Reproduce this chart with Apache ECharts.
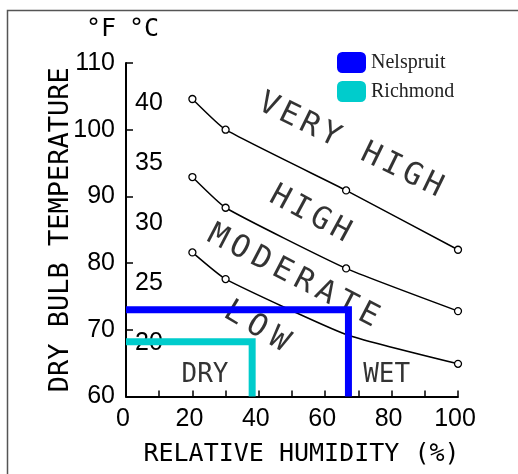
<!DOCTYPE html>
<html>
<head>
<meta charset="utf-8">
<script src="https://cdn.jsdelivr.net/npm/echarts@6/dist/echarts.min.js"></script>
<style>
  html, body { margin: 0; padding: 0; background: #fff; }
  #chart { width: 518px; height: 474px; }
</style>
</head>
<body>
<div id="chart"></div>
<script>
// Relative humidity (%) at which each boundary curve was plotted
const humidityPoints = [20, 30, 66.3, 100];
// Dry bulb temperature (°F) along the three zone boundaries
const veryHighBoundary = [104.6, 100.0, 90.9, 82.0];
const highBoundary     = [92.9, 88.3, 79.2, 72.8];
const moderateBoundary = [81.6, 77.6, 69.3, 64.9];

// Station conditions: relative humidity (%) and dry bulb temperature (°F)
const stationNames = ['Nelspruit', 'Richmond'];
const stationHumidity = [67, 38];
const stationTemp = [73.0, 68.2];
const stationColors = ['#0000ff', '#00cccc'];

// Axis tick labels
const humidityTicks = [0, 20, 40, 60, 80, 100];
const fahrenheitTicks = [60, 70, 80, 90, 100, 110];
const celsiusTicks = [20, 25, 30, 35, 40];

// Zone names written across the chart
const zoneNames = ['VERY HIGH', 'HIGH', 'MODERATE', 'LOW'];
const moistureNames = ['DRY', 'WET'];

const plotFont = 'DejaVu Sans Mono';
const tickFont = 'Liberation Sans';

const chart = echarts.init(document.getElementById('chart'), null, { renderer: 'canvas' });

function boundary(temps) {
  return humidityPoints.map((h, i) => [h, temps[i]]);
}

function stationPath(i) {
  return [[0, stationTemp[i]], [stationHumidity[i], stationTemp[i]], [stationHumidity[i], 60]];
}

// Letter-spaced text built from fixed-width rich-text cells
function spaced(text, cls) {
  return text.split('').map(ch => '{' + cls + '|' + ch + '}').join('');
}

const curveStyle = {
  type: 'line',
  smooth: 0.15,
  symbol: 'circle',
  symbolSize: 7,
  silent: true,
  lineStyle: { color: '#000', width: 1.5 },
  itemStyle: { color: '#fff', borderColor: '#000', borderWidth: 1.3 },
  z: 3
};

// Placement of the zone captions (data coordinates), rotation and letter pitch
const zonePlacement = [
  { at: [67.6, 97.6], rotate: -26, pitch: 22.8 },
  { at: [55.4, 87.3], rotate: -28.5, pitch: 22.8 },
  { at: [50.3, 78.0], rotate: -27.5, pitch: 24.2 },
  { at: [39.3, 70.4], rotate: -31, pitch: 26 }
];
const moisturePlacement = [[23.8, 63.2], [78.5, 63.2]];

const rich = {};
zonePlacement.forEach((p, i) => {
  rich['z' + i] = {
    width: p.pitch, align: 'center',
    fontFamily: plotFont, fontSize: 31, color: '#000'
  };
});

const zoneData = zoneNames.map((name, i) => ({
  value: zonePlacement[i].at,
  label: {
    show: true,
    position: 'inside',
    rotate: zonePlacement[i].rotate,
    formatter: spaced(name, 'z' + i)
  }
}));
moistureNames.forEach((name, i) => {
  zoneData.push({
    value: moisturePlacement[i],
    label: {
      show: true, position: 'inside', rotate: 0,
      formatter: name, fontFamily: plotFont, fontSize: 26, color: '#000'
    }
  });
});

const lowData = boundary(moderateBoundary).map((pt, i) =>
  i === 2 ? { value: pt, symbol: 'none' } : pt);

const option = {
  animation: false,
  backgroundColor: '#fff',
  grid: { left: 126, right: 60, top: 63, bottom: 77.5, containLabel: false },
  legend: {
    data: stationNames,
    orient: 'vertical',
    left: 332, top: 47,
    icon: 'roundRect',
    itemWidth: 29, itemHeight: 21, itemGap: 8,
    itemStyle: { borderWidth: 0 },
    textStyle: { fontFamily: 'Liberation Serif', fontSize: 20, color: '#222' }
  },
  xAxis: {
    type: 'value', min: 0, max: 100, interval: 10,
    name: 'RELATIVE HUMIDITY (%)',
    nameLocation: 'middle', nameGap: 45,
    nameMoveOverlap: false,
    nameTextStyle: { fontFamily: plotFont, fontSize: 25, color: '#000', padding: [0, 0, 0, 19] },
    axisLine: { lineStyle: { color: '#000', width: 2 } },
    axisTick: { inside: true, length: 6, lineStyle: { color: '#000', width: 1.5 } },
    axisLabel: {
      customValues: humidityTicks,
      fontFamily: tickFont, fontSize: 25, color: '#000', margin: 10,
      padding: [0, 6, 0, 0]
    },
    splitLine: { show: false }
  },
  yAxis: [
    {
      type: 'value', min: 60, max: 110, interval: 10,
      name: 'DRY BULB TEMPERATURE',
      nameLocation: 'middle', nameGap: 52,
      nameMoveOverlap: false,
      nameTextStyle: { fontFamily: plotFont, fontSize: 27, color: '#000' },
      axisLine: { show: true, lineStyle: { color: '#000', width: 2 } },
      axisTick: { show: true, inside: true, length: 7, lineStyle: { color: '#000', width: 1.5 } },
      axisLabel: {
        customValues: fahrenheitTicks,
        fontFamily: tickFont, fontSize: 25, color: '#000', margin: 11
      },
      splitLine: { show: false }
    },
    {
      type: 'value', min: 60, max: 110, position: 'left', offset: 0,
      axisLine: { show: false },
      axisTick: { show: false },
      splitLine: { show: false },
      axisLabel: {
        inside: true, margin: 9,
        customValues: celsiusTicks.map(c => c * 9 / 5 + 32),
        formatter: v => String(Math.round((v - 32) * 5 / 9)),
        fontFamily: tickFont, fontSize: 25, color: '#000'
      }
    }
  ],
  graphic: [
    {
      type: 'polyline', silent: true,
      shape: { points: [[7.5, 474], [7.5, 10.5], [518, 10.5]] },
      style: { stroke: '#555', lineWidth: 1.5, fill: null }
    },
    {
      type: 'text', left: 86, top: 17,
      style: { text: '°F', fontFamily: plotFont, fontSize: 25, fill: '#000' }
    },
    {
      type: 'text', left: 129, top: 17,
      style: { text: '°C', fontFamily: plotFont, fontSize: 25, fill: '#000' }
    }
  ],
  series: [
    Object.assign({ name: 'Very high boundary', data: boundary(veryHighBoundary) }, curveStyle),
    Object.assign({ name: 'High boundary', data: boundary(highBoundary) }, curveStyle),
    Object.assign({ name: 'Moderate boundary', data: lowData }, curveStyle),
    ...stationNames.map((name, i) => ({
      name: name,
      type: 'line',
      data: stationPath(i),
      symbol: 'none',
      silent: true,
      color: stationColors[i],
      itemStyle: { color: stationColors[i] },
      lineStyle: { color: stationColors[i], width: 7, join: 'miter', cap: 'butt' },
      z: 5
    })),
    {
      name: 'Zones',
      type: 'scatter',
      symbolSize: 0,
      silent: true,
      data: zoneData,
      label: { show: true, rich: rich },
      z: 4
    }
  ]
};

chart.setOption(option);
</script>
</body>
</html>
